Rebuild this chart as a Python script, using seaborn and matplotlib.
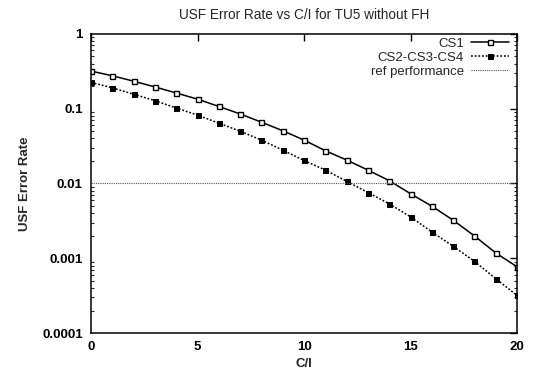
import matplotlib
matplotlib.use("Agg")
import matplotlib.pyplot as plt
import matplotlib.ticker as mticker
import seaborn as sns
import numpy as np
import pandas as pd

ci_db = [0, 1, 2, 3, 4, 5, 6, 7, 8, 9, 10, 11, 12, 13, 14, 15, 16, 17, 18, 19, 20]
cs1 = [0.318, 0.275, 0.233, 0.195, 0.162, 0.134, 0.107, 0.085, 0.066, 0.0507, 0.038,
       0.0274, 0.0206, 0.0151, 0.0109, 0.0073, 0.00497, 0.00323, 0.00199, 0.00118, 0.00077]
cs2_cs3_cs4 = [0.224, 0.190, 0.156, 0.128, 0.102, 0.082, 0.064, 0.050, 0.038, 0.0279, 0.0203,
               0.0151, 0.0107, 0.00757, 0.00535, 0.00358, 0.00225, 0.00145, 0.00091, 0.000534, 0.000319]
ref_x = [0, 20]
ref_level = [0.01, 0.01]
y_ticks = [0.0001, 0.001, 0.01, 0.1, 1]
y_tick_labels = ["0.0001", "0.001", "0.01", "0.1", "1"]
x_ticks = [0, 5, 10, 15, 20]

sns.set_theme(style="white")
plt.rcParams['font.family'] = ['Liberation Sans', 'DejaVu Sans']

fig = plt.figure(figsize=(5.42, 3.76), dpi=100)
ax = fig.add_axes([0.168, 0.114, 0.786, 0.796])

df1 = pd.DataFrame({"x": ci_db, "y": cs1})
df2 = pd.DataFrame({"x": ci_db, "y": cs2_cs3_cs4})
dfr = pd.DataFrame({"x": ref_x, "y": ref_level})

sns.lineplot(data=df1, x="x", y="y", ax=ax, color="black", linewidth=1.1,
             marker="s", markersize=3.6, markerfacecolor="white",
             markeredgecolor="black", markeredgewidth=1.0, label="CS1")
sns.lineplot(data=df2, x="x", y="y", ax=ax, color="black", linewidth=1.1,
             linestyle=(0, (1.2, 1.2)), marker="s", markersize=3.6,
             markerfacecolor="black", markeredgecolor="black", label="CS2-CS3-CS4")
sns.lineplot(data=dfr, x="x", y="y", ax=ax, color="#555555", linewidth=0.8,
             linestyle=(0, (1, 1)), label="ref performance")

ax.set_yscale("log")
ax.set_xlim(0, 20)
ax.set_ylim(0.0001, 1)
ax.set_xticks(x_ticks)
ax.set_xticklabels([str(v) for v in x_ticks])
ax.set_yticks(y_ticks)
ax.set_yticklabels(y_tick_labels)
ax.yaxis.set_minor_locator(mticker.LogLocator(base=10, subs=np.arange(2, 10)))
ax.yaxis.set_minor_formatter(mticker.NullFormatter())

ax.tick_params(axis="both", which="major", direction="in", length=5, width=1,
               top=True, right=True, labelsize=9.5, pad=6, colors="black")
ax.tick_params(axis="y", which="minor", direction="in", length=2.5, width=0.8,
               left=True, right=True)
for lbl in ax.get_xticklabels() + ax.get_yticklabels():
    lbl.set_fontweight("bold")

for s in ax.spines.values():
    s.set_visible(True)
    s.set_color("black")
    s.set_linewidth(1.1)

ax.set_xlabel("C/I", fontsize=9.5, fontweight="bold", labelpad=3)
ax.set_ylabel("USF Error Rate", fontsize=9.5, fontweight="bold", labelpad=8)
ax.set_title("USF Error Rate vs C/I for TU5 without FH", fontsize=9.8, pad=11)

leg = ax.legend(loc="upper right", bbox_to_anchor=(0.99, 1.0), frameon=False,
                markerfirst=False, fontsize=9.5, handlelength=2.9, borderaxespad=0.1,
                labelspacing=0.12, handletextpad=0.5, borderpad=0.2)

fig.savefig("out.png", dpi=100)
